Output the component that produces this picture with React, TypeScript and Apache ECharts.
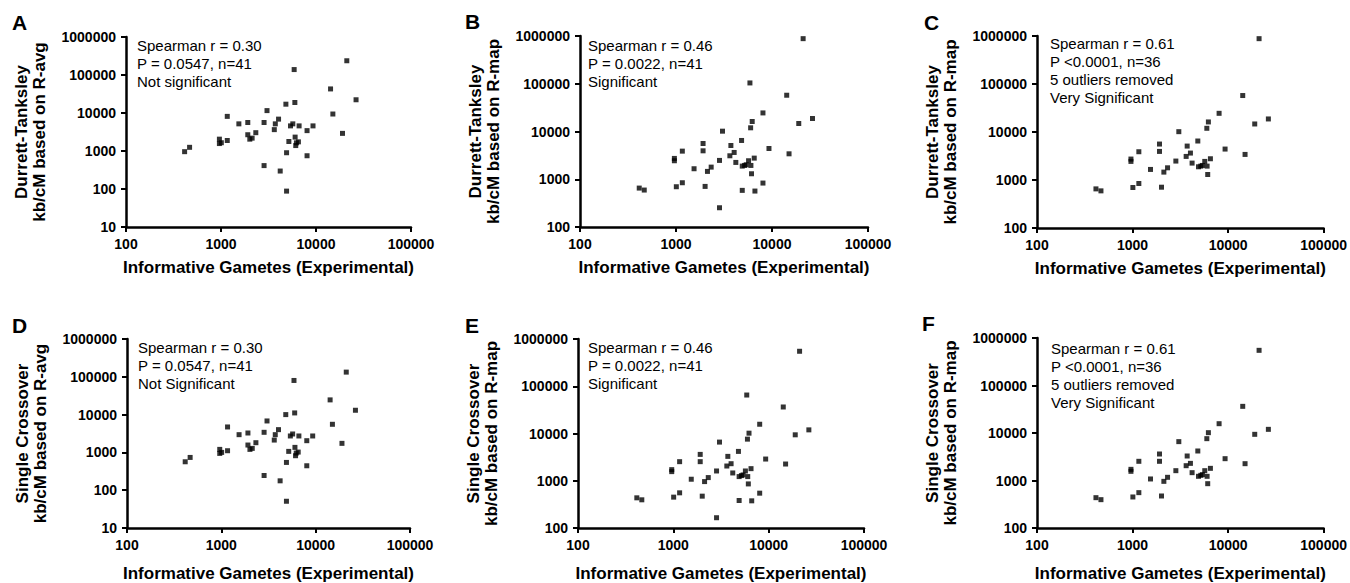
import React, { useEffect, useRef } from "react";
import * as echarts from "echarts";

const FONT = '"Liberation Sans", Arial, Helvetica, sans-serif';

// Informative gametes (experimental), shared x values of every panel
const gametes = [414, 467, 962, 962, 1008, 1164, 1164, 1542, 1914, 1914, 2010, 2127, 2325, 2840, 2840, 3050, 3640, 3730, 4035, 4200, 4820, 4900, 4900, 5180, 5390, 5700, 5890, 5990, 6030, 6120, 6220, 6530, 6640, 8050, 8050, 9300, 14230, 15050, 19000, 21100, 26400];

// Durrett-Tanksley kb/cM based on R-avg
const dtAvg = [960, 1250, 2050, 1570, 1650, 1890, 8150, 5180, 5620, 2680, 2050, 2180, 3035, 5620, 413, 11560, 3650, 5180, 6900, 297, 17060, 900, 88, 1780, 4580, 5180, 139000, 18900, 2320, 1390, 1640, 1740, 4580, 3435, 750, 4580, 43000, 9400, 2910, 237000, 22300];
// Durrett-Tanksley kb/cM based on R-map
const dtMap = [653, 594, 2730, 2440, 697, 3880, 845, 1660, 5610, 3940, 708, 1460, 1795, 2480, 253, 10160, 3100, 5090, 3640, 2250, 6490, 1885, 585, 1946, 2010, 2440, 104000, 11950, 1946, 1303, 16200, 2770, 566, 24500, 832, 4410, 57500, 3410, 14700, 880000, 18700];
// Single Crossover kb/cM based on R-avg
const scAvg = [565, 736, 1202, 940, 1000, 1107, 4710, 2945, 3260, 1567, 1202, 1277, 1806, 3400, 245, 6790, 2120, 2945, 4000, 177, 10000, 543, 51, 1064, 2720, 3070, 80000, 11070, 1358, 817, 960, 1020, 2720, 2040, 443, 2720, 24500, 5540, 1735, 133000, 13030];
// Single Crossover kb/cM based on R-map
const scMap = [435, 395, 1718, 1560, 450, 2535, 555, 1077, 3613, 2535, 472, 960, 1167, 1610, 165, 6580, 2050, 3280, 2295, 1462, 4180, 1225, 382, 1285, 1327, 1610, 65200, 7600, 1225, 857, 10160, 1803, 376, 15700, 546, 2880, 36400, 2260, 9380, 550000, 11940];

// indices of the 5 outliers removed in panels C and F
const outliers = [14, 22, 26, 32, 34];

const xName = "Informative Gametes (Experimental)";
const yNames = [
  "Durrett-Tanksley\nkb/cM based on R-avg",
  "Durrett-Tanksley\nkb/cM based on R-map",
  "Durrett-Tanksley\nkb/cM based on R-map",
  "Single Crossover\nkb/cM based on R-avg",
  "Single Crossover\nkb/cM based on R-map",
  "Single Crossover\nkb/cM based on R-map",
];
const letters = ["A", "B", "C", "D", "E", "F"];
const notes = [
  ["Spearman r = 0.30", "P = 0.0547, n=41", "Not significant"],
  ["Spearman r = 0.46", "P = 0.0022, n=41", "Significant"],
  ["Spearman r = 0.61", "P <0.0001, n=36", "5 outliers removed", "Very Significant"],
  ["Spearman r = 0.30", "P = 0.0547, n=41", "Not Significant"],
  ["Spearman r = 0.46", "P = 0.0022, n=41", "Significant"],
  ["Spearman r = 0.61", "P <0.0001, n=36", "5 outliers removed", "Very Significant"],
];
const yMins = [10, 100, 100, 10, 100, 100];
const xMin = 100;
const xMax = 100000;
const yMax = 1000000;

const pairs = (ys: number[], drop: number[] = []) =>
  gametes.map((x, i) => [x, ys[i]]).filter((_, i) => !drop.includes(i));

const seriesData = [
  pairs(dtAvg),
  pairs(dtMap),
  pairs(dtMap, outliers),
  pairs(scAvg),
  pairs(scMap),
  pairs(scMap, outliers),
];

// layout
const grids = [
  { left: 126, top: 37, width: 285, height: 190 },
  { left: 580, top: 36, width: 288, height: 191 },
  { left: 1037, top: 36, width: 288, height: 192 },
  { left: 127, top: 339, width: 283, height: 190 },
  { left: 578, top: 339, width: 286, height: 190 },
  { left: 1037, top: 338, width: 288, height: 191 },
];
const letterPos = [
  [12, 22], [465, 21], [924, 22],
  [12, 325], [465, 325], [922, 323],
];
const notePos = [
  [137, 45], [588, 45], [1050, 43],
  [138, 347], [588, 347], [1051, 348],
];

const fmt = (v: number) => String(Math.round(v));

export default function App() {
  const ref = useRef<HTMLDivElement>(null);
  useEffect(() => {
    if (!ref.current) return;
    const chart = echarts.init(ref.current, undefined, { renderer: "svg" });
    const axisLine = { onZero: false, lineStyle: { color: "#000", width: 2.5 } };
    const axisTick = { length: 5, lineStyle: { color: "#000", width: 2 } };
    const labelStyle = { fontFamily: FONT, fontWeight: "bold", fontSize: 14, color: "#000" };
    const nameStyle = { fontFamily: FONT, fontWeight: "bold", fontSize: 17, color: "#000", lineHeight: 18 };

    const graphic: any[] = [];
    letters.forEach((l, i) => {
      graphic.push({
        type: "text",
        x: letterPos[i][0],
        y: letterPos[i][1],
        style: { text: l, font: `bold 21px ${FONT}`, fill: "#000", textVerticalAlign: "middle" },
      });
      notes[i].forEach((line, k) => {
        graphic.push({
          type: "text",
          x: notePos[i][0],
          y: notePos[i][1] + k * 18,
          style: { text: line, font: `15px ${FONT}`, fill: "#000", textVerticalAlign: "middle" },
        });
      });
    });

    chart.setOption({
      animation: false,
      backgroundColor: "#fff",
      grid: grids.map((g) => ({ ...g, containLabel: false })),
      xAxis: grids.map((_, i) => ({
        gridIndex: i,
        type: "log",
        logBase: 10,
        min: xMin,
        max: xMax,
        name: xName,
        nameLocation: "middle",
        nameGap: i < 3 ? 31 : 36,
        nameTextStyle: nameStyle,
        axisLine,
        axisTick,
        axisLabel: { ...labelStyle, margin: 10, formatter: fmt, showMinLabel: true, showMaxLabel: true },
        splitLine: { show: false },
        minorTick: { show: false },
      })),
      yAxis: grids.map((_, i) => ({
        gridIndex: i,
        type: "log",
        logBase: 10,
        min: yMins[i],
        max: yMax,
        name: yNames[i],
        nameLocation: "middle",
        nameRotate: 90,
        nameGap: 78,
        nameTextStyle: nameStyle,
        axisLine,
        axisTick,
        axisLabel: { ...labelStyle, margin: 10, formatter: fmt, showMinLabel: true, showMaxLabel: true },
        splitLine: { show: false },
      })),
      series: seriesData.map((d, i) => ({
        type: "scatter",
        xAxisIndex: i,
        yAxisIndex: i,
        symbol: "rect",
        symbolSize: 5,
        itemStyle: { color: "#000" },
        data: d,
      })),
      graphic,
    });
    return () => chart.dispose();
  }, []);
  return (
    <div
      ref={ref}
      style={{ position: "fixed", left: 0, top: 0, width: 1350, height: 583, background: "#fff" }}
    />
  );
}
